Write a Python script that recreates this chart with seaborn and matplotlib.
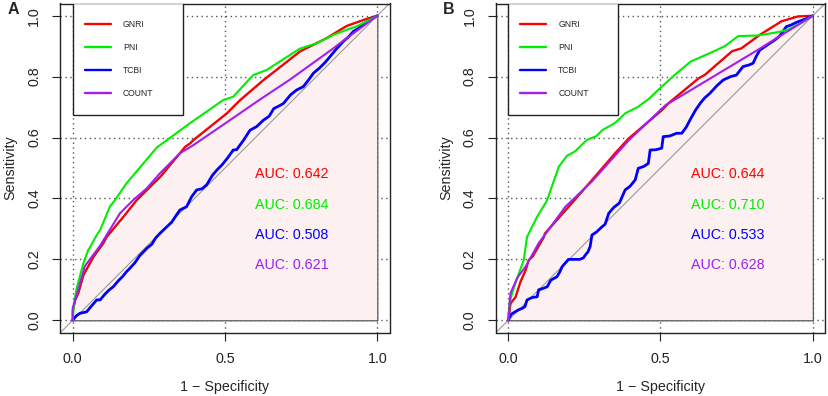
import numpy as np
import pandas as pd
import matplotlib
matplotlib.use("Agg")
import matplotlib.pyplot as plt
from matplotlib.patches import Rectangle
from matplotlib.lines import Line2D
import seaborn as sns

# ---------------- data ----------------
markers = ["GNRI", "PNI", "TCBI", "COUNT"]
colors = ["#FF0000", "#00EE00", "#0000FF", "#A020F0"]

# Panel A
gnri_a_x = [0, 0, 0.008, 0.018, 0.035, 0.068, 0.10, 0.111, 0.166, 0.21, 0.243, 0.287, 0.34, 0.369, 0.385,
            0.396, 0.506, 0.549, 0.626, 0.746, 0.79, 0.834, 0.888, 0.90, 0.965, 1.0]
gnri_a_y = [0, 0.03, 0.067, 0.089, 0.149, 0.209, 0.253, 0.274, 0.34, 0.395, 0.428, 0.471, 0.535, 0.57, 0.581,
            0.592, 0.68, 0.723, 0.789, 0.883, 0.905, 0.927, 0.96, 0.967, 0.99, 1.0]
pni_a_x = [0, 0.005, 0.013, 0.035, 0.051, 0.057, 0.079, 0.09, 0.122, 0.139, 0.177, 0.276, 0.385, 0.494, 0.527,
           0.583, 0.593, 0.637, 0.746, 0.80, 0.856, 0.90, 0.933, 1.0]
pni_a_y = [0, 0.06, 0.105, 0.187, 0.231, 0.24, 0.28, 0.296, 0.373, 0.395, 0.45, 0.567, 0.647, 0.723, 0.734,
           0.795, 0.805, 0.822, 0.892, 0.909, 0.937, 0.954, 0.965, 1.0]
tcbi_a_x = [0, 0.012, 0.024, 0.046, 0.06, 0.079, 0.09, 0.105, 0.12, 0.133, 0.15, 0.165, 0.177, 0.188, 0.205,
            0.22, 0.243, 0.26, 0.272, 0.287, 0.309, 0.325, 0.34, 0.352, 0.374, 0.39, 0.407, 0.425, 0.44, 0.458,
            0.473, 0.49, 0.51, 0.527, 0.538, 0.56, 0.582, 0.604, 0.626, 0.645, 0.66, 0.68, 0.692, 0.715, 0.735,
            0.757, 0.775, 0.79, 0.81, 0.83, 0.845, 0.865, 0.888, 0.905, 0.921, 0.94, 0.96, 0.98, 1.0]
tcbi_a_y = [0, 0.015, 0.023, 0.028, 0.045, 0.067, 0.067, 0.085, 0.1, 0.11, 0.13, 0.145, 0.16, 0.171, 0.19,
            0.212, 0.236, 0.25, 0.27, 0.286, 0.307, 0.322, 0.345, 0.362, 0.373, 0.405, 0.428, 0.432, 0.445, 0.475,
            0.493, 0.51, 0.535, 0.559, 0.56, 0.59, 0.624, 0.636, 0.657, 0.67, 0.695, 0.705, 0.712, 0.74, 0.756,
            0.767, 0.79, 0.811, 0.828, 0.848, 0.866, 0.89, 0.915, 0.93, 0.948, 0.96, 0.975, 0.99, 1.0]
count_a_x = [0, 0, 0.005, 0.04, 0.09, 0.155, 0.199, 0.243, 0.287, 0.353, 0.396, 0.484, 0.506, 0.615, 0.713,
             0.856, 0.878, 1.0]
count_a_y = [0, 0.04, 0.056, 0.178, 0.245, 0.351, 0.395, 0.433, 0.483, 0.549, 0.575, 0.635, 0.65, 0.725, 0.79,
             0.893, 0.91, 1.0]
auc_a = ["0.642", "0.684", "0.508", "0.621"]

# Panel B
gnri_b_x = [0, 0.0075, 0.024, 0.04, 0.057, 0.067, 0.08, 0.117, 0.12, 0.188, 0.198, 0.275, 0.351, 0.395, 0.504,
            0.526, 0.625, 0.645, 0.735, 0.765, 0.825, 0.897, 0.951, 1.0]
gnri_b_y = [0, 0.056, 0.077, 0.127, 0.165, 0.198, 0.21, 0.274, 0.285, 0.362, 0.373, 0.461, 0.549, 0.597, 0.69,
            0.713, 0.795, 0.806, 0.884, 0.893, 0.937, 0.982, 0.998, 1.0]
pni_b_x = [0, 0.005, 0.013, 0.035, 0.051, 0.062, 0.095, 0.122, 0.128, 0.166, 0.193, 0.22, 0.258, 0.29, 0.31,
           0.351, 0.385, 0.425, 0.463, 0.493, 0.553, 0.6, 0.662, 0.711, 0.755, 0.82, 0.886, 0.92, 0.962, 1.0]
pni_b_y = [0, 0.06, 0.089, 0.154, 0.198, 0.274, 0.34, 0.384, 0.395, 0.504, 0.54, 0.555, 0.592, 0.605, 0.625,
           0.648, 0.68, 0.70, 0.728, 0.757, 0.811, 0.85, 0.877, 0.9, 0.933, 0.935, 0.946, 0.955, 0.976, 1.0]
tcbi_b_x = [0, 0.01, 0.018, 0.035, 0.046, 0.055, 0.062, 0.079, 0.095, 0.1, 0.115, 0.128, 0.14, 0.16, 0.17,
            0.177, 0.198, 0.21, 0.235, 0.247, 0.253, 0.262, 0.269, 0.275, 0.29, 0.308, 0.318, 0.33, 0.346, 0.365,
            0.384, 0.4, 0.417, 0.427, 0.445, 0.46, 0.466, 0.485, 0.504, 0.509, 0.53, 0.553, 0.57, 0.585, 0.597,
            0.615, 0.63, 0.645, 0.662, 0.685, 0.706, 0.73, 0.749, 0.771, 0.79, 0.804, 0.815, 0.826, 0.845, 0.858,
            0.875, 0.891, 0.913, 0.93, 0.946, 0.965, 0.978, 1.0]
tcbi_b_y = [0, 0.02, 0.025, 0.035, 0.039, 0.045, 0.067, 0.075, 0.077, 0.1, 0.105, 0.11, 0.132, 0.143, 0.16,
            0.176, 0.2, 0.2, 0.2, 0.205, 0.214, 0.225, 0.242, 0.28, 0.29, 0.307, 0.315, 0.351, 0.37, 0.385,
            0.428, 0.44, 0.461, 0.499, 0.505, 0.515, 0.559, 0.56, 0.565, 0.603, 0.605, 0.614, 0.614, 0.635, 0.658,
            0.69, 0.712, 0.73, 0.745, 0.77, 0.789, 0.8, 0.805, 0.833, 0.838, 0.844, 0.868, 0.887, 0.9, 0.909,
            0.92, 0.933, 0.964, 0.97, 0.978, 0.985, 0.99, 1.0]
count_b_x = [0, 0.0075, 0.03, 0.057, 0.1, 0.188, 0.275, 0.395, 0.515, 0.82, 1.0]
count_b_y = [0, 0.089, 0.14, 0.176, 0.253, 0.373, 0.456, 0.59, 0.705, 0.888, 1.0]
auc_b = ["0.644", "0.710", "0.533", "0.628"]

panels = [
    ("A", [(gnri_a_x, gnri_a_y), (pni_a_x, pni_a_y), (tcbi_a_x, tcbi_a_y), (count_a_x, count_a_y)], auc_a),
    ("B", [(gnri_b_x, gnri_b_y), (pni_b_x, pni_b_y), (tcbi_b_x, tcbi_b_y), (count_b_x, count_b_y)], auc_b),
]
xticks = [0.0, 0.5, 1.0]
xticklabels = ["0.0", "0.5", "1.0"]
yticks = [0.0, 0.2, 0.4, 0.6, 0.8, 1.0]
yticklabels = ["0.0", "0.2", "0.4", "0.6", "0.8", "1.0"]
auc_y = [0.48, 0.38, 0.28, 0.18]

# ---------------- style ----------------
sns.set_theme(style="white")
plt.rcParams["font.family"] = ["Liberation Sans", "DejaVu Sans"]
plt.rcParams["axes.edgecolor"] = "#222222"
plt.rcParams["xtick.color"] = "#222222"
plt.rcParams["ytick.color"] = "#222222"

W, H = 829, 396
fig = plt.figure(figsize=(W / 100, H / 100), dpi=100)
fig.patch.set_facecolor("white")

ax_boxes = [(60.5, 3.5, 329, 329), (496, 3.5, 329, 329)]
pink = "#FDF0F0"

for (label, curves, aucs), (lx, ty, w, h) in zip(panels, ax_boxes):
    ax = fig.add_axes([lx / W, 1 - (ty + h) / H, w / W, h / H])
    ax.set_xlim(-0.04, 1.04)
    ax.set_ylim(-0.04, 1.04)

    # grid (dotted)
    for gx in xticks:
        ax.axvline(gx, color="#555555", lw=1.0, ls=(0, (1, 2.5)), zorder=0.5)
    for gy in yticks:
        ax.axhline(gy, color="#555555", lw=1.0, ls=(0, (1, 2.5)), zorder=0.5)

    # AUC polygon under first curve
    gx0, gy0 = curves[0]
    ax.fill_between(gx0, gy0, 0, facecolor=pink, edgecolor="#444444", lw=0.8, zorder=1)

    # diagonal
    ax.axline((0, 0), (1, 1), color="#999999", lw=0.8, zorder=2)

    handles = []
    for i, ((cx, cy), name, col) in enumerate(zip(curves, markers, colors)):
        df = pd.DataFrame({"fpr": cx, "tpr": cy})
        lw = 2.0 if name == "TCBI" else 1.5
        sns.lineplot(data=df, x="fpr", y="tpr", sort=False, estimator=None, color=col,
                     lw=lw, ax=ax, zorder=3 + (0.1 if name == "TCBI" else 0.2 * i))
        handles.append(Line2D([], [], color=col, lw=1.7))

    # AUC texts
    for txt, yy, col in zip(aucs, auc_y, colors):
        ax.text(0.6, yy, f"AUC: {txt}", color=col, fontsize=10.3, ha="left", va="center", zorder=6)

    # legend box
    ax.add_patch(Rectangle((0.0, 0.674), 0.361, 0.366, facecolor="white", edgecolor="#222222",
                           lw=1.0, zorder=7))
    leg = ax.legend(handles, markers, loc="upper left", bbox_to_anchor=(0.040, 0.986),
                    bbox_transform=ax.transData, frameon=False, fontsize=6.2,
                    handlelength=3.0, handletextpad=1.4, labelspacing=1.63,
                    borderpad=0, borderaxespad=0)
    leg.set_zorder(8)

    ax.set_xticks(xticks)
    ax.set_xticklabels(xticklabels, fontsize=10.3)
    ax.set_yticks(yticks)
    ax.set_yticklabels(yticklabels, fontsize=10.3, rotation=90, va="center")
    ax.tick_params(axis="both", direction="out", length=6, width=0.8, pad=8, bottom=True, left=True)
    ax.set_xlabel("1 \u2212 Specificity", fontsize=10.3, labelpad=10)
    ax.set_ylabel("Sensitivity", fontsize=10.3, labelpad=7)
    for sp in ax.spines.values():
        sp.set_linewidth(1.0)
        sp.set_color("#222222")

    fig.text((lx - 47.5) / W, 1 - 10 / H, label, fontsize=11.5, fontweight="bold",
             ha="center", va="center")

fig.savefig("out.png", dpi=100, facecolor="white")
